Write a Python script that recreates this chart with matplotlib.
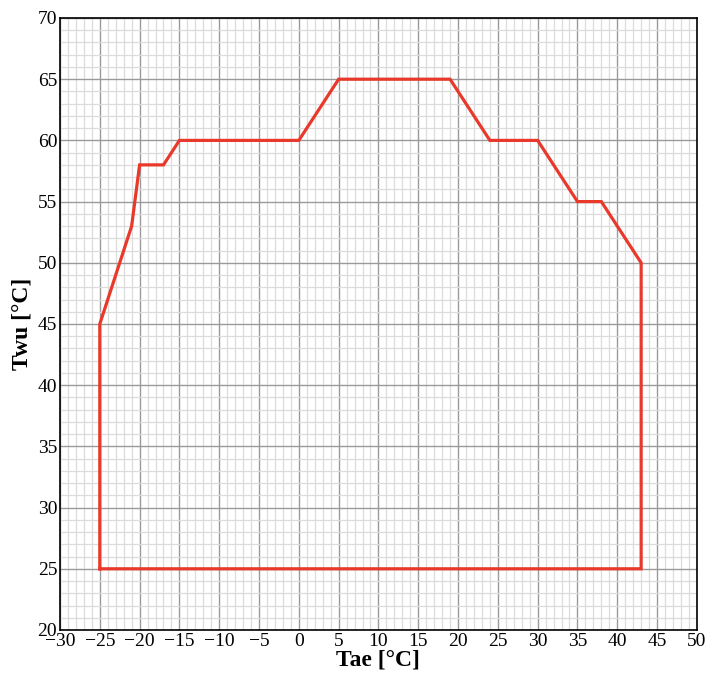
import matplotlib.pyplot as plt
import numpy as np

plt.rcParams['font.family'] = ['Liberation Serif', 'DejaVu Serif']

# operating envelope corners (Tae, Twu)
tae = [-25, -25, -21, -20, -17, -15, 0, 5, 19, 24, 30, 35, 38, 43, 43, -25]
twu = [25, 45, 53, 58, 58, 60, 60, 65, 65, 60, 60, 55, 55, 50, 25, 25]

fig = plt.figure(figsize=(7.1, 6.74), dpi=100)
ax = fig.add_axes([0.0845, 0.0653, 0.897, 0.908])

ax.plot(tae, twu, color='#e8392b', lw=2.3, solid_joinstyle='miter', zorder=3)

ax.set_xlim(-30, 50)
ax.set_ylim(20, 70)
ax.set_xticks(np.arange(-30, 51, 5))
ax.set_yticks(np.arange(20, 71, 5))
ax.set_xticks(np.arange(-30, 51, 1), minor=True)
ax.set_yticks(np.arange(20, 71, 1), minor=True)
ax.grid(which='minor', color='#dcdcdc', lw=0.9)
ax.grid(which='major', color='#9a9a9a', lw=1.0)
ax.set_axisbelow(True)
ax.tick_params(which='both', length=0, labelsize=14, pad=2)
for s in ax.spines.values():
    s.set_linewidth(1.2)

ax.set_xlabel('Tae [°C]', fontsize=17, fontweight='bold', labelpad=0)
ax.set_ylabel('Twu [°C]', fontsize=17, fontweight='bold', labelpad=4)

fig.savefig('out.png')
